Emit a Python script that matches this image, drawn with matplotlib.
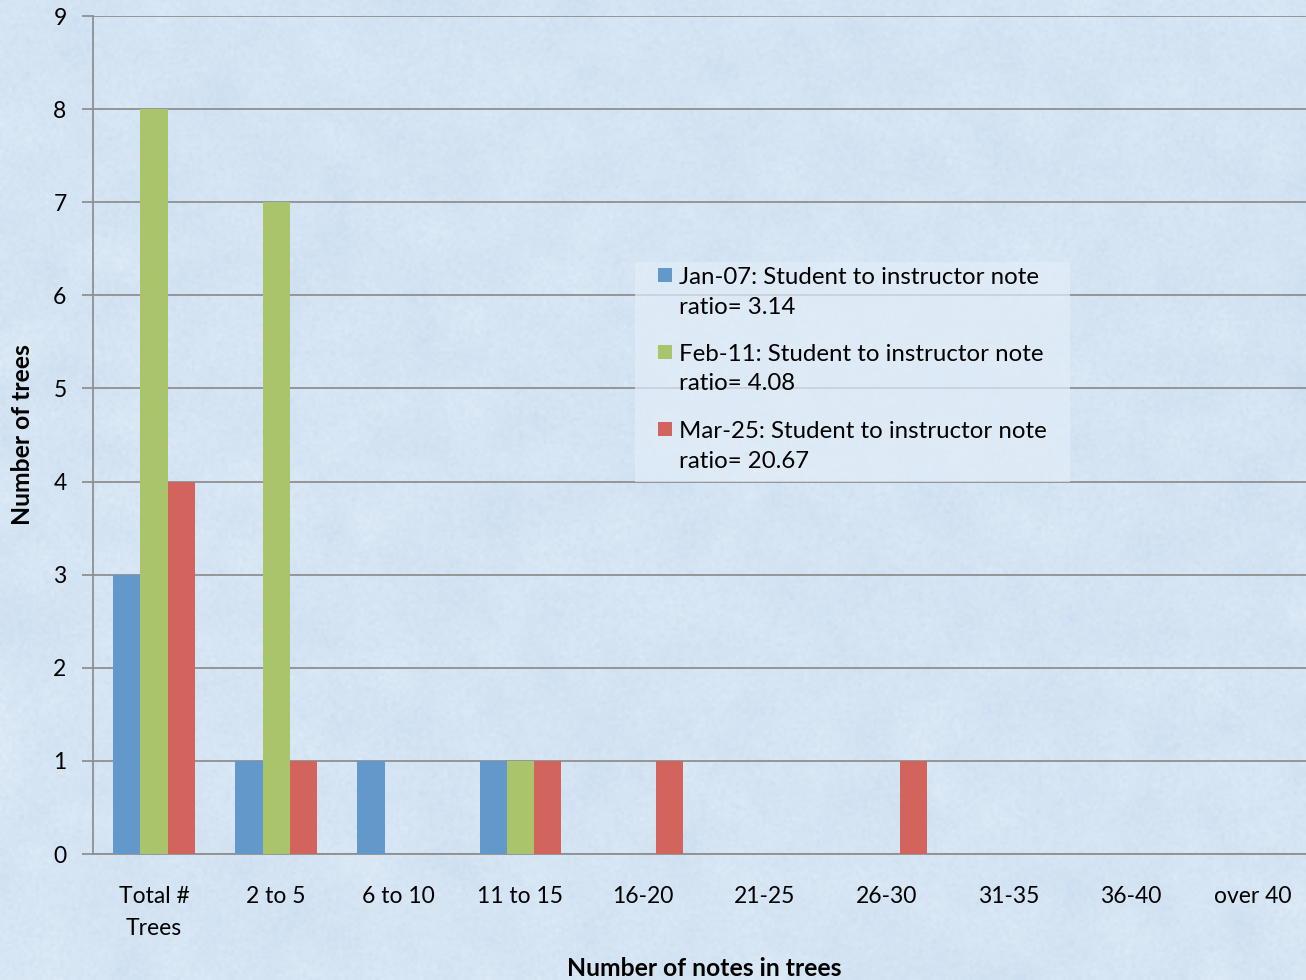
import numpy as np
import matplotlib.pyplot as plt
from matplotlib.patches import Rectangle
from matplotlib.colors import LinearSegmentedColormap

plt.rcParams['font.family'] = ['Lato', 'DejaVu Sans']

categories = ['Total #\nTrees', '2 to 5', '6 to 10', '11 to 15', '16-20',
              '21-25', '26-30', '31-35', '36-40', 'over 40']
jan = [3, 1, 1, 1, 0, 0, 0, 0, 0, 0]
feb = [8, 7, 0, 1, 0, 0, 0, 0, 0, 0]
mar = [4, 1, 0, 1, 1, 0, 1, 0, 0, 0]
series_labels = ['Jan-07: Student to instructor note\nratio= 3.14',
                 'Feb-11: Student to instructor note\nratio= 4.08',
                 'Mar-25: Student to instructor note\nratio= 20.67']
colors = ['#6298CA', '#AAC46B', '#D2645D']

W, H = 1306, 980
bg = '#d5e5f4'
fig = plt.figure(figsize=(W / 100, H / 100), dpi=100, facecolor=bg)

# tissue-paper blue background: soft blotches plus fine grain
paper = LinearSegmentedColormap.from_list('paper', ['#c4d8ee', '#d5e5f4', '#e8f1fa'])
rng = np.random.default_rng(7)
coarse = rng.normal(size=(45, 60))
fine = rng.normal(size=(326, 435))
bgax = fig.add_axes([0, 0, 1, 1], zorder=-1)
bgax.imshow(coarse, extent=(0, 1, 0, 1), cmap=paper, vmin=-3, vmax=3,
            interpolation='bicubic', aspect='auto')
bgax.imshow(fine, extent=(0, 1, 0, 1), cmap=paper, vmin=-3, vmax=3,
            interpolation='bilinear', aspect='auto', alpha=0.45)
bgax.set_axis_off()

ax = fig.add_axes([93 / W, 1 - 854 / H, 1 - 93 / W, (854 - 16) / H])
ax.set_facecolor('none')

x = np.arange(len(categories))
w = 0.223
for i, (vals, c) in enumerate(zip([jan, feb, mar], colors)):
    ax.bar(x + (i - 1) * w, vals, w, color=c, zorder=3)

ax.set_xlim(-0.5, (W - 94) / 122 - 0.5)
ax.set_ylim(0, 9)
ax.set_yticks(range(10))
ax.yaxis.grid(True, color='#8f8f8f', linewidth=1.3, zorder=1)
ax.set_axisbelow(True)
ax.set_xticks(x)
ax.set_xticklabels(categories, fontsize=16.5, linespacing=1.65)
ax.tick_params(axis='x', length=0, pad=23)
ax.tick_params(axis='y', length=8, width=1.3, color='#8f8f8f', labelsize=16.5, pad=11)

for s in ['top', 'right']:
    ax.spines[s].set_visible(False)
for s in ['left', 'bottom']:
    ax.spines[s].set_color('#8f8f8f')
    ax.spines[s].set_linewidth(1.3)

fig.text(704 / W, 1 - 968 / H, 'Number of notes in trees', fontsize=17.8,
         fontweight='bold', ha='center', va='center')
fig.text(23 / W, 1 - 435 / H, 'Number of trees', fontsize=17.8,
         fontweight='bold', ha='center', va='center', rotation=90)

# legend box drawn by hand so the swatch sits beside the first text line
fig.patches.append(Rectangle((635 / W, 1 - 482 / H), 435 / W, 220 / H,
                             transform=fig.transFigure, facecolor='#e2edf8',
                             alpha=0.7, edgecolor='none', zorder=5))
for i, (lab, c) in enumerate(zip(series_labels, colors)):
    ytop = 268 + i * 77
    fig.patches.append(Rectangle((658 / W, 1 - (ytop + 14) / H), 14 / W, 14 / H,
                                 transform=fig.transFigure, facecolor=c,
                                 edgecolor='none', zorder=6))
    fig.text(679 / W, 1 - (ytop - 1) / H, lab, fontsize=17.3, ha='left', va='top',
             linespacing=1.5, zorder=7)

fig.savefig('out.png', dpi=100, facecolor=bg)
